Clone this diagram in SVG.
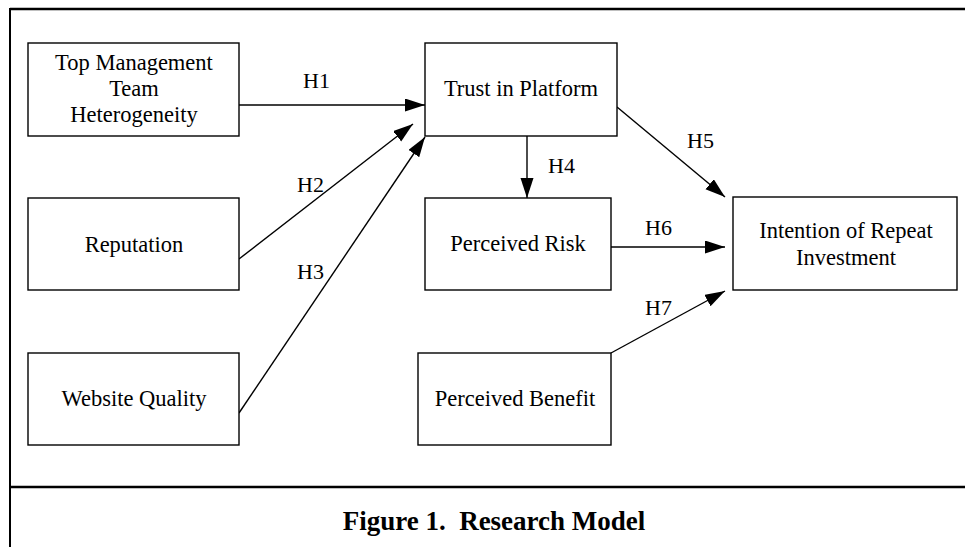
<svg xmlns="http://www.w3.org/2000/svg" width="965" height="547" viewBox="0 0 965 547">
<style>
.box{fill:#fff;stroke:#000;stroke-width:1.4}
.t{font-family:"Liberation Serif","Times New Roman",serif;font-size:22.5px;fill:#000;text-anchor:middle}
.h{font-family:"Liberation Serif","Times New Roman",serif;font-size:22px;fill:#000}
.c{stroke:#000;stroke-width:1.4;fill:none;marker-end:url(#ah)}
.cap{font-family:"Liberation Serif","Times New Roman",serif;font-size:27px;font-weight:bold;fill:#000;text-anchor:middle}
</style>
<defs>
<marker id="ah" markerUnits="userSpaceOnUse" markerWidth="22" markerHeight="14" refX="20" refY="6.5" orient="auto">
<path d="M0,0 L20,6.5 L0,13 Z" fill="#000"/>
</marker>
</defs>
<rect width="965" height="547" fill="#fff"/>
<g id="frame">
<line x1="10" y1="9" x2="965" y2="9" stroke="#000" stroke-width="2.5"/>
<line x1="10" y1="8" x2="10" y2="547" stroke="#000" stroke-width="2"/>
<line x1="10" y1="487" x2="965" y2="487" stroke="#000" stroke-width="2.5"/>
</g>
<g id="connectors">
<line class="c" x1="239" y1="105" x2="425" y2="105"/>
<line class="c" x1="239" y1="259" x2="413" y2="124"/>
<line class="c" x1="239" y1="413" x2="425" y2="137"/>
<line class="c" x1="527" y1="136" x2="527" y2="198"/>
<line class="c" x1="617" y1="107" x2="725" y2="197"/>
<line class="c" x1="611" y1="247" x2="725" y2="247"/>
<line class="c" x1="611" y1="353" x2="725" y2="291"/>
<text class="h" x="303" y="88">H1</text>
<text class="h" x="297" y="192">H2</text>
<text class="h" x="297" y="279">H3</text>
<text class="h" x="548" y="173">H4</text>
<text class="h" x="687" y="148">H5</text>
<text class="h" x="645" y="235">H6</text>
<text class="h" x="645" y="315">H7</text>
</g>
<g id="tmt">
<rect class="box" x="28" y="43" width="211" height="93"/>
<text class="t" x="134" y="70">Top Management</text>
<text class="t" x="134" y="96">Team</text>
<text class="t" x="134" y="122">Heterogeneity</text>
</g>
<g id="reputation">
<rect class="box" x="28" y="198" width="211" height="92"/>
<text class="t" x="134" y="252">Reputation</text>
</g>
<g id="website">
<rect class="box" x="28" y="353" width="211" height="92"/>
<text class="t" x="134" y="406">Website Quality</text>
</g>
<g id="trust">
<rect class="box" x="425" y="43" width="192" height="93"/>
<text class="t" x="521" y="96">Trust in Platform</text>
</g>
<g id="risk">
<rect class="box" x="425" y="198" width="186" height="92"/>
<text class="t" x="518" y="251">Perceived Risk</text>
</g>
<g id="benefit">
<rect class="box" x="418" y="353" width="193" height="92"/>
<text class="t" x="515" y="406">Perceived Benefit</text>
</g>
<g id="intention">
<rect class="box" x="733" y="197" width="224" height="93"/>
<text class="t" x="846" y="238">Intention of Repeat</text>
<text class="t" x="846" y="265">Investment</text>
</g>
<text class="cap" x="494" y="530">Figure 1.&#160; Research Model</text>
</svg>
